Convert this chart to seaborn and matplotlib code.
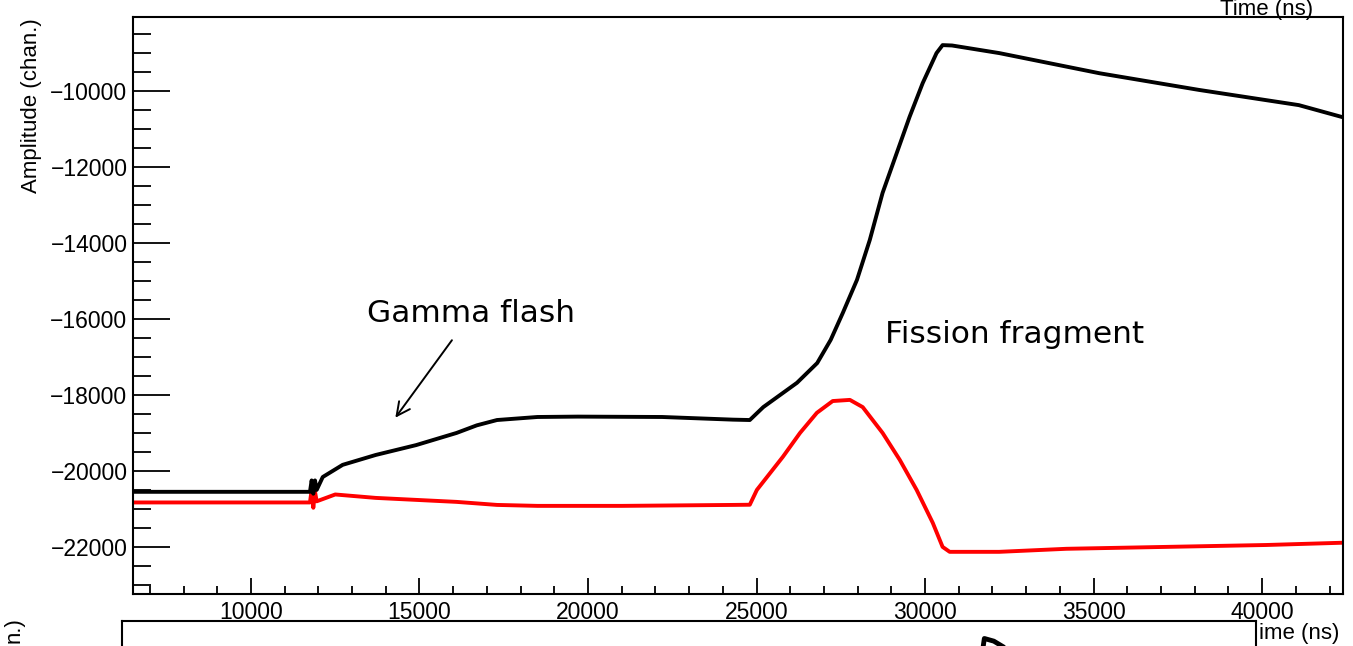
import numpy as np
import pandas as pd
import matplotlib
matplotlib.use("Agg")
import matplotlib.pyplot as plt
from matplotlib.ticker import MultipleLocator, ScalarFormatter
import seaborn as sns

# -------------------------------------------------
# Datos (tiempo en ns, amplitud en canales)
# -------------------------------------------------
t_negro = [6500, 11750, 11800, 11850, 11900, 11950, 12130, 12720, 13700,
           14900, 16100, 16700, 17300, 18500, 19700, 22200, 24300, 24800,
           25200, 26200, 26800, 27200, 27560, 27980, 28360, 28740, 29160,
           29540, 29930, 30340, 30520, 30800, 32200, 35170, 38130, 41090,
           42400]
amp_negro = [-20550, -20550, -20250, -20600, -20250, -20500, -20160, -19840,
             -19580, -19320, -19000, -18800, -18660, -18580, -18570, -18580,
             -18650, -18660, -18320, -17680, -17160, -16550, -15840, -14970,
             -13920, -12680, -11630, -10680, -9790, -9000, -8790, -8800,
             -9000, -9530, -9970, -10370, -10690]

t_rojo = [6500, 11750, 11800, 11850, 11900, 11950, 12500, 13700, 16100,
          17300, 18500, 21000, 24300, 24800, 25010, 25780, 26290, 26790,
          27260, 27770, 28150, 28740, 29250, 29750, 30230, 30520, 30730,
          32200, 34190, 37150, 40120, 42400]
amp_rojo = [-20830, -20830, -20500, -20970, -20550, -20800, -20620, -20710,
            -20815, -20895, -20920, -20920, -20895, -20890, -20500, -19630,
            -19000, -18470, -18160, -18130, -18320, -19000, -19710, -20500,
            -21370, -22000, -22130, -22130, -22050, -22000, -21950, -21890]

# segundo panel (solo se ve el borde superior)
t_panel2 = [33500, 33800, 34100, 34600]
amp_panel2 = [-10500, -8780, -8850, -9100]

sns.set_style("white")
plt.rcParams["font.family"] = ["Liberation Sans", "DejaVu Sans"]
plt.rcParams["axes.unicode_minus"] = True
plt.rcParams["text.color"] = "black"
plt.rcParams["xtick.color"] = "black"
plt.rcParams["ytick.color"] = "black"
plt.rcParams["axes.labelcolor"] = "black"

fig = plt.figure(figsize=(13.53, 6.46), dpi=100)

# -------------------------------------------------
# Panel principal
# -------------------------------------------------
ax = fig.add_axes([133 / 1353, 52 / 646, 1210 / 1353, 577 / 646])

df_negro = pd.DataFrame({"t": t_negro, "amp": amp_negro})
df_rojo = pd.DataFrame({"t": t_rojo, "amp": amp_rojo})
sns.lineplot(data=df_rojo, x="t", y="amp", color="#ff0000", linewidth=2.8,
             estimator=None, sort=False, ax=ax)
sns.lineplot(data=df_negro, x="t", y="amp", color="black", linewidth=2.8,
             estimator=None, sort=False, ax=ax)

ax.set_xlim(6500, 42400)
ax.set_ylim(-23240, -8050)
ax.set_xlabel("")
ax.set_ylabel("")

ax.xaxis.set_major_locator(MultipleLocator(5000))
ax.xaxis.set_minor_locator(MultipleLocator(1000))
ax.yaxis.set_major_locator(MultipleLocator(2000))
ax.yaxis.set_minor_locator(MultipleLocator(500))
for eje in (ax.xaxis, ax.yaxis):
    fmt = ScalarFormatter(useOffset=False)
    fmt.set_scientific(False)
    eje.set_major_formatter(fmt)

ax.tick_params(axis="y", which="major", direction="in", length=26.5,
               width=1.3, pad=4, labelsize=16.5, left=True, right=False)
ax.tick_params(axis="y", which="minor", direction="in", length=13,
               width=1.3, left=True, right=False)
ax.tick_params(axis="x", which="major", direction="in", length=11.5,
               width=1.3, pad=5, labelsize=16.5, bottom=True, top=False)
ax.tick_params(axis="x", which="minor", direction="in", length=6,
               width=1.3, bottom=True, top=False)
for s in ax.spines.values():
    s.set_linewidth(1.5)
    s.set_color("black")

# anotaciones
ax.text(13435, -16079, "Gamma flash", fontsize=22.5, family="DejaVu Sans",
        ha="left", va="baseline")
ax.text(28803, -16632, "Fission fragment", fontsize=22.5,
        family="DejaVu Sans", ha="left", va="baseline")
ax.annotate("", xy=(14235, -18658), xytext=(16011, -16500),
            arrowprops=dict(arrowstyle="->", color="black", lw=1.4,
                            mutation_scale=24))

fig.text(32 / 1353, 1 - 18 / 646, "Amplitude (chan.)", rotation=90,
         ha="center", va="top", fontsize=16)
fig.text(1313 / 1353, 1 - 15 / 646, "Time (ns)", ha="right",
         va="baseline", fontsize=16)

# -------------------------------------------------
# Segundo panel, cortado por el borde inferior
# -------------------------------------------------
ax2 = fig.add_axes([122 / 1353, (25 - 577) / 646, 1134 / 1353, 577 / 646])
sns.lineplot(x=t_panel2, y=amp_panel2, color="black", linewidth=3.5,
             estimator=None, sort=False, ax=ax2)
ax2.set_xlim(6500, 42400)
ax2.set_ylim(-23500, -8320)
ax2.set_yticks([-8500])
ax2.set_yticklabels([])
ax2.set_xticks([])
ax2.tick_params(axis="y", direction="in", length=13, width=1.3)
for s in ax2.spines.values():
    s.set_linewidth(1.5)
    s.set_color("black")

fig.text(14 / 1353, 1 - 617 / 646, "n.)", rotation=90,
         ha="center", va="top", fontsize=16)
fig.text(1259 / 1353, 1 - 633 / 646, "ime (ns)", ha="left", va="center",
         fontsize=16)

fig.savefig("out.png", dpi=100)
